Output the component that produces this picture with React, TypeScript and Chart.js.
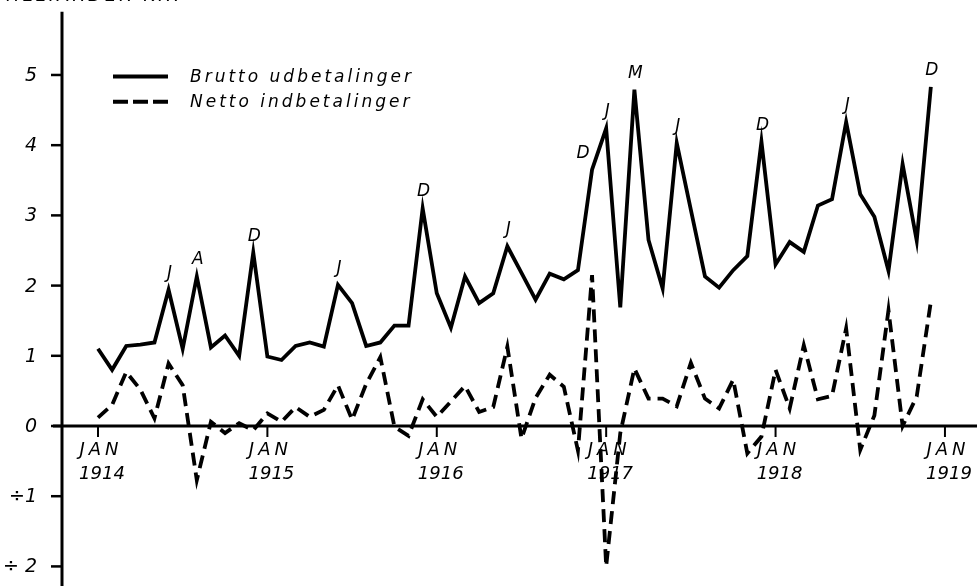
import React, { useEffect, useRef } from "react";
import { Chart, registerables } from "chart.js";

Chart.register(...registerables);

// ---- data ----
const years = [1914, 1915, 1916, 1917, 1918];
const monthNames = ["JAN", "FEB", "MAR", "APR", "MAJ", "JUN", "JUL", "AUG", "SEP", "OKT", "NOV", "DEC"];
const months = years.flatMap((y) => monthNames.map((m) => `${m} ${y}`));

const brutto = [
  1.10, 0.80, 1.14, 1.16, 1.19, 1.94, 1.10, 2.13, 1.12, 1.29, 1.00, 2.47,
  0.99, 0.94, 1.14, 1.19, 1.13, 2.01, 1.75, 1.14, 1.19, 1.43, 1.43, 3.10,
  1.89, 1.40, 2.13, 1.75, 1.89, 2.56, 2.18, 1.80, 2.17, 2.09, 2.22, 3.65,
  4.24, 1.69, 4.79, 2.65, 1.96, 4.03, 3.08, 2.13, 1.97, 2.22, 2.42, 4.05,
  2.30, 2.62, 2.48, 3.14, 3.23, 4.33, 3.30, 2.98, 2.21, 3.73, 2.64, 4.83,
];

const netto = [
  0.12, 0.30, 0.77, 0.52, 0.11, 0.89, 0.58, -0.77, 0.06, -0.10, 0.04, -0.06,
  0.18, 0.06, 0.27, 0.13, 0.23, 0.58, 0.09, 0.60, 0.98, -0.01, -0.14, 0.38,
  0.13, 0.35, 0.57, 0.20, 0.27, 1.13, -0.18, 0.40, 0.73, 0.56, -0.35, 2.15,
  -2.00, -0.10, 0.82, 0.39, 0.39, 0.28, 0.90, 0.39, 0.25, 0.66, -0.39, -0.15,
  0.80, 0.25, 1.15, 0.38, 0.43, 1.39, -0.34, 0.15, 1.65, 0.00, 0.42, 1.77,
];

const peakIndex = [5, 7, 11, 17, 23, 29, 35, 36, 38, 41, 47, 53, 59];
const peakLetter = ["J", "A", "D", "J", "D", "J", "D", "J", "M", "J", "D", "J", "D"];

const yTickValues = [-2, -1, 0, 1, 2, 3, 4, 5];
const yTickLabels = ["÷ 2", "÷1", "0", "1", "2", "3", "4", "5"];
const xTickIndex = [0, 12, 24, 36, 48, 60];
const xTickYears = ["1914", "1915", "1916", "1917", "1918", "1919"];
const xTickMonth = "JAN";
const legendLabels = ["Brutto udbetalinger", "Netto indbetalinger"];
const unitLabel = "MILLIARDER KR.";

const FONT = '"DejaVu Sans", sans-serif';
const AXIS_MONTH = -2.55; // position of the vertical axis, in month units
const DASH = [13, 7];

const decorPlugin = {
  id: "decor",
  beforeDatasetsDraw(chart: any) {
    const { ctx } = chart;
    const xs = chart.scales.x;
    const ys = chart.scales.y;
    const X = (v: number) => xs.getPixelForValue(v);
    const Y = (v: number) => ys.getPixelForValue(v);
    const ax = X(AXIS_MONTH);
    const zeroY = Y(0);
    ctx.save();
    ctx.strokeStyle = "#000";
    ctx.fillStyle = "#000";
    ctx.lineCap = "butt";
    // axes
    ctx.lineWidth = 3;
    ctx.beginPath();
    ctx.moveTo(ax, Y(5.9));
    ctx.lineTo(ax, chart.height);
    ctx.stroke();
    ctx.beginPath();
    ctx.moveTo(ax - 9, zeroY);
    ctx.lineTo(chart.width, zeroY);
    ctx.stroke();
    // y ticks + labels
    ctx.lineWidth = 2.5;
    ctx.font = `italic 19px ${FONT}`;
    ctx.textAlign = "right";
    ctx.textBaseline = "middle";
    yTickValues.forEach((v, k) => {
      const py = Y(v);
      ctx.beginPath();
      ctx.moveTo(ax - 11, py);
      ctx.lineTo(ax, py);
      ctx.stroke();
      ctx.fillText(yTickLabels[k], ax - 25, py + 1);
    });
    // x ticks + labels
    ctx.lineWidth = 2;
    ctx.textAlign = "center";
    ctx.font = `italic 18px ${FONT}`;
    xTickIndex.forEach((i, k) => {
      const px = X(i);
      ctx.beginPath();
      ctx.moveTo(px, zeroY);
      ctx.lineTo(px, zeroY + 11);
      ctx.stroke();
      (ctx as any).letterSpacing = "4px";
      ctx.fillText(xTickMonth, px + 3, zeroY + 24);
      (ctx as any).letterSpacing = "0px";
      ctx.fillText(xTickYears[k], px + 4, zeroY + 48);
    });
    // unit label (cut off at the top)
    ctx.textAlign = "left";
    ctx.textBaseline = "alphabetic";
    (ctx as any).letterSpacing = "3px";
    ctx.font = `italic 18px ${FONT}`;
    ctx.fillText(unitLabel, -4, 1);
    (ctx as any).letterSpacing = "0px";
    ctx.restore();
  },
  afterDatasetsDraw(chart: any) {
    const { ctx } = chart;
    const xs = chart.scales.x;
    const ys = chart.scales.y;
    ctx.save();
    ctx.fillStyle = "#000";
    ctx.strokeStyle = "#000";
    // peak month letters
    ctx.font = `italic 17px ${FONT}`;
    ctx.textAlign = "center";
    ctx.textBaseline = "bottom";
    peakIndex.forEach((i, k) => {
      const px = xs.getPixelForValue(i);
      const py = ys.getPixelForValue(brutto[i]);
      const shift = brutto[i + 1] !== undefined && brutto[i + 1] > brutto[i] && i + 1 === peakIndex[k + 1] ? -9 : 1;
      ctx.fillText(peakLetter[k], px + shift, py - 8);
    });
    // legend
    const lx0 = 113;
    const lx1 = 168;
    const rows = [ys.getPixelForValue(4.98), ys.getPixelForValue(4.62)];
    ctx.lineWidth = 4;
    rows.forEach((ry, k) => {
      ctx.setLineDash(k === 0 ? [] : [15, 5]);
      ctx.beginPath();
      ctx.moveTo(lx0, ry);
      ctx.lineTo(lx1, ry);
      ctx.stroke();
    });
    ctx.setLineDash([]);
    ctx.font = `italic 17px ${FONT}`;
    ctx.textAlign = "left";
    ctx.textBaseline = "middle";
    (ctx as any).letterSpacing = "3px";
    rows.forEach((ry, k) => ctx.fillText(legendLabels[k], 190, ry + 1));
    (ctx as any).letterSpacing = "0px";
    ctx.restore();
  },
};

export default function App() {
  const ref = useRef<HTMLCanvasElement | null>(null);
  useEffect(() => {
    if (!ref.current) return;
    const chart = new Chart(ref.current, {
      type: "line",
      data: {
        labels: months,
        datasets: [
          {
            label: legendLabels[0],
            data: brutto.map((v, i) => ({ x: i, y: v })),
            borderColor: "#000",
            borderWidth: 3.8,
            pointRadius: 0,
            tension: 0,
            borderJoinStyle: "miter",
            fill: false,
          },
          {
            label: legendLabels[1],
            data: netto.map((v, i) => ({ x: i, y: v })),
            borderColor: "#000",
            borderWidth: 3.8,
            borderDash: DASH,
            pointRadius: 0,
            tension: 0,
            borderJoinStyle: "miter",
            fill: false,
          },
        ],
      },
      options: {
        animation: false,
        responsive: false,
        devicePixelRatio: 1,
        layout: { padding: 0 },
        plugins: { legend: { display: false }, tooltip: { enabled: false } },
        scales: {
          x: { type: "linear", display: false, min: -6.942, max: 62.27 },
          y: { type: "linear", display: false, min: -2.279, max: 6.068 },
        },
      },
      plugins: [decorPlugin],
    } as any);
    return () => chart.destroy();
  }, []);
  return (
    <div style={{ position: "fixed", left: 0, top: 0, width: 977, height: 586, background: "#fff" }}>
      <canvas ref={ref} width={977} height={586} />
    </div>
  );
}
